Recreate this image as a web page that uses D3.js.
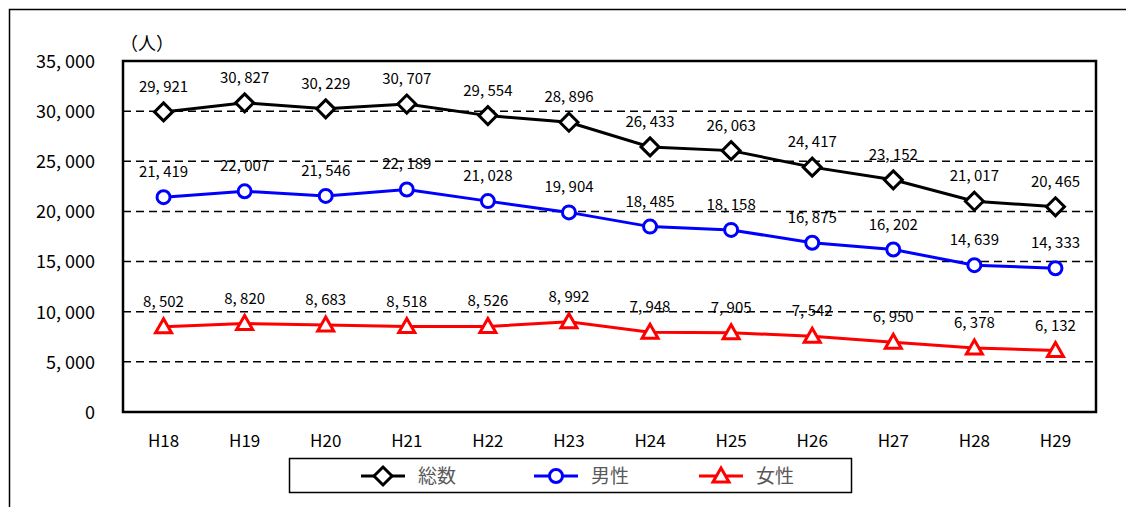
<!DOCTYPE html>
<html>
<head>
<meta charset="utf-8">
<script src="https://cdn.jsdelivr.net/npm/d3@7"></script>
<style>
  html, body { margin: 0; padding: 0; background: #fff; }
  svg { display: block; }
  .num { font-family: "Noto Sans CJK JP", sans-serif; }
  .jp { font-family: "Noto Sans CJK JP", sans-serif; }
</style>
</head>
<body>
<svg id="chart" width="1126" height="507"></svg>
<script>
// Fiscal years (Heisei)
const years = ["H18", "H19", "H20", "H21", "H22", "H23", "H24", "H25", "H26", "H27", "H28", "H29"];
// Persons per year
const totalValues = [29921, 30827, 30229, 30707, 29554, 28896, 26433, 26063, 24417, 23152, 21017, 20465];
const maleValues = [21419, 22007, 21546, 22189, 21028, 19904, 18485, 18158, 16875, 16202, 14639, 14333];
const femaleValues = [8502, 8820, 8683, 8518, 8526, 8992, 7948, 7905, 7542, 6950, 6378, 6132];
const yTicks = [0, 5000, 10000, 15000, 20000, 25000, 30000, 35000];
const seriesNames = ["総数", "男性", "女性"];

const series = [
  { name: seriesNames[0], values: totalValues, color: "#000000", marker: "diamond" },
  { name: seriesNames[1], values: maleValues, color: "#0000FF", marker: "circle" },
  { name: seriesNames[2], values: femaleValues, color: "#FF0000", marker: "triangle" }
];

const svg = d3.select("#chart");
const plot = { left: 123, right: 1096, top: 61, bottom: 412 };

const x = d3.scaleBand().domain(years).range([plot.left, plot.right]);
const cx = d => x(d) + x.bandwidth() / 2;
const y = d3.scaleLinear().domain([0, 35000]).range([plot.bottom, plot.top]);

const fmt = v => d3.format(",")(v).replace(/,/g, ", ");

// Outer frame (left and top edges visible)
svg.append("path")
  .attr("d", `M9.5,507 V9.5 H1126`)
  .attr("fill", "none").attr("stroke", "#000").attr("stroke-width", 1.5);

// Dashed gridlines
svg.append("g").selectAll("line")
  .data(yTicks.filter(t => t > 0 && t < 35000))
  .join("line")
  .attr("x1", plot.left).attr("x2", plot.right)
  .attr("y1", d => y(d)).attr("y2", d => y(d))
  .attr("stroke", "#000").attr("stroke-width", 1.5)
  .attr("stroke-dasharray", "8,5");

// Plot area border
svg.append("rect")
  .attr("x", plot.left).attr("y", plot.top)
  .attr("width", plot.right - plot.left).attr("height", plot.bottom - plot.top)
  .attr("fill", "none").attr("stroke", "#000").attr("stroke-width", 2.5);

// Y axis labels
const yAxis = d3.axisLeft(y).tickValues(yTicks).tickSize(0).tickPadding(28).tickFormat(fmt);
const gy = svg.append("g").attr("transform", `translate(${plot.left},0)`).call(yAxis);
gy.select(".domain").remove();
gy.selectAll("text").attr("class", "num").attr("font-size", 18).attr("fill", "#000").attr("dy", "0.35em");

// X axis labels
const xAxis = d3.axisBottom(x).tickSize(0).tickPadding(23);
const gx = svg.append("g").attr("transform", `translate(0,${plot.bottom})`).call(xAxis);
gx.select(".domain").remove();
gx.selectAll("text").attr("class", "num").attr("font-size", 17).attr("fill", "#000");

// Unit label
svg.append("text").attr("class", "jp").attr("x", 120).attr("y", 50)
  .attr("font-size", 18).attr("fill", "#000").text("（人）");

const line = d3.line().x((d, i) => cx(years[i])).y(d => y(d));

function drawMarker(g, type, color) {
  if (type === "diamond") {
    g.append("path").attr("d", "M0,-9 L9,0 L0,9 L-9,0 Z")
      .attr("fill", "#fff").attr("stroke", color).attr("stroke-width", 3);
  } else if (type === "circle") {
    g.append("circle").attr("r", 6.5)
      .attr("fill", "#fff").attr("stroke", color).attr("stroke-width", 3);
  } else {
    g.append("path").attr("d", "M0,-8 L8,6 L-8,6 Z")
      .attr("fill", "#fff").attr("stroke", color).attr("stroke-width", 3);
  }
}

series.forEach(s => {
  svg.append("path").datum(s.values)
    .attr("d", line).attr("fill", "none")
    .attr("stroke", s.color).attr("stroke-width", 3);
  s.values.forEach((v, i) => {
    const g = svg.append("g").attr("transform", `translate(${cx(years[i])},${y(v)})`);
    drawMarker(g, s.marker, s.color);
  });
  svg.append("g").selectAll("text").data(s.values).join("text")
    .attr("class", "num")
    .attr("x", (d, i) => cx(years[i]))
    .attr("y", d => y(d) - 20)
    .attr("text-anchor", "middle")
    .attr("font-size", 15).attr("fill", "#000")
    .text(d => fmt(d));
});

// Legend
const legend = svg.append("g");
legend.append("rect").attr("x", 289.5).attr("y", 458.5).attr("width", 562).attr("height", 34)
  .attr("fill", "#fff").attr("stroke", "#000").attr("stroke-width", 1.5);
const legendX = [383, 556, 721];
series.forEach((s, i) => {
  const g = legend.append("g").attr("transform", `translate(${legendX[i]},476)`);
  g.append("line").attr("x1", -22).attr("x2", 22).attr("stroke", s.color).attr("stroke-width", 3);
  drawMarker(g, s.marker, s.color);
  g.append("text").attr("class", "jp").attr("x", 35).attr("y", 0).attr("dy", "0.36em")
    .attr("font-size", 19).attr("fill", "#595959").text(s.name);
});
</script>
</body>
</html>
